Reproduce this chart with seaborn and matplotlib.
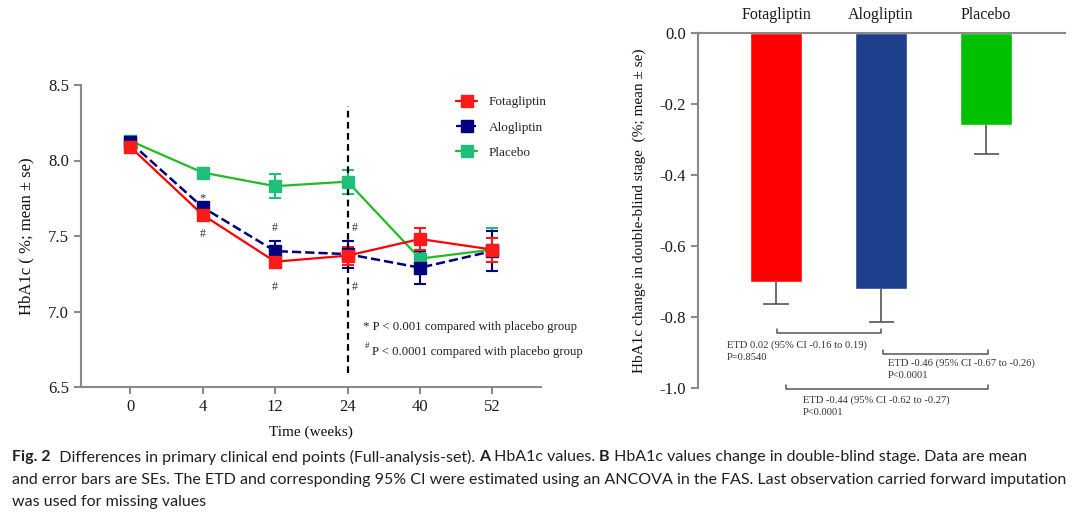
import pandas as pd
import matplotlib
matplotlib.use('Agg')
import matplotlib.pyplot as plt
import seaborn as sns
from matplotlib.lines import Line2D

# ---- data ----
weeks = ['0', '4', '12', '24', '40', '52']
groups = ['Fotagliptin', 'Alogliptin', 'Placebo']

fota_mean = [8.09, 7.64, 7.33, 7.37, 7.48, 7.41]
fota_se = [0.02, 0.03, 0.04, 0.06, 0.07, 0.08]
alo_mean = [8.12, 7.69, 7.40, 7.38, 7.29, 7.40]
alo_se = [0.02, 0.03, 0.07, 0.09, 0.11, 0.13]
plac_mean = [8.13, 7.92, 7.83, 7.86, 7.35, 7.41]
plac_se = [0.02, 0.03, 0.08, 0.08, 0.04, 0.14]

change_mean = [-0.70, -0.72, -0.26]
change_se = [0.063, 0.093, 0.082]

left_yticks = [6.5, 7.0, 7.5, 8.0, 8.5]
right_yticks = [0.0, -0.2, -0.4, -0.6, -0.8, -1.0]
right_yticklabels = ['0.0', '-0.2', '-0.4', '-0.6', '-0.8', '-1.0']

etd_text = [
    ('ETD 0.02 (95% CI -0.16 to 0.19)', 'P=0.8540'),
    ('ETD -0.46 (95% CI -0.67 to -0.26)', 'P<0.0001'),
    ('ETD -0.44 (95% CI -0.62 to -0.27)', 'P<0.0001'),
]

caption_line2 = ('and error bars are SEs. The ETD and corresponding 95% CI were '
                 'estimated using an ANCOVA in the FAS. Last observation carried forward imputation')
caption_line3 = 'was used for missing values'

line_colors = {'Fotagliptin': '#ff0000', 'Alogliptin': '#00007f', 'Placebo': '#22bb22'}
marker_colors = {'Fotagliptin': '#ff1a1a', 'Alogliptin': '#000080', 'Placebo': '#1dbf7a'}
bar_colors = ['#ff0000', '#1e3f8c', '#00c000']

W, H = 1080, 515


def fx(px):
    return px / W


def fy(py):
    return 1 - py / H


def draw_runs(fig, x, y, runs, **kw):
    r = fig.canvas.get_renderer()
    for s, w in runs:
        t = fig.text(x, y, s, fontweight=w, **kw)
        bb = t.get_window_extent(renderer=r)
        x += bb.width / fig.bbox.width


def main():
    sns.set_style('ticks')
    plt.rcParams['font.family'] = ['Liberation Serif', 'DejaVu Serif']
    plt.rcParams['axes.unicode_minus'] = False
    plt.rcParams['axes.edgecolor'] = '#8a8a8a'
    plt.rcParams['xtick.color'] = '#8a8a8a'
    plt.rcParams['ytick.color'] = '#8a8a8a'
    plt.rcParams['xtick.labelcolor'] = '#1a1a1a'
    plt.rcParams['ytick.labelcolor'] = '#1a1a1a'

    fig = plt.figure(figsize=(W / 100, H / 100), dpi=100)

    # ---------------- panel A ----------------
    ax = fig.add_axes([fx(81), fy(387), fx(541) - fx(81), fy(85) - fy(387)])
    df = pd.DataFrame({
        'pos': list(range(len(weeks))) * 3,
        'mean': fota_mean + alo_mean + plac_mean,
        'se': fota_se + alo_se + plac_se,
        'group': [g for g in groups for _ in weeks],
    })
    for g in ['Placebo', 'Alogliptin', 'Fotagliptin']:
        sub = df[df['group'] == g]
        sns.lineplot(data=sub, x='pos', y='mean', color=line_colors[g],
                     lw=1.6 if g != 'Alogliptin' else 1.8,
                     linestyle='--' if g == 'Alogliptin' else '-',
                     ax=ax, legend=False)
        ax.errorbar(sub['pos'], sub['mean'], yerr=sub['se'], fmt='s',
                    ms=9, color=marker_colors[g], ecolor=marker_colors[g],
                    capsize=4, elinewidth=1.5, capthick=1.5)

    ax.vlines(3, 6.59, 8.36, colors='black', linestyles=(0, (3, 2)), lw=1.6)

    ax.set_xlim(-0.68, 5.67)
    ax.set_ylim(6.5, 8.5)
    ax.set_xticks(range(len(weeks)))
    ax.set_xticklabels(weeks)
    ax.set_yticks(left_yticks)
    ax.set_yticklabels([f'{v:.1f}' for v in left_yticks])
    ax.tick_params(labelsize=12, width=1.5, length=5)
    for s in ['top', 'right']:
        ax.spines[s].set_visible(False)
    for s in ['left', 'bottom']:
        ax.spines[s].set_linewidth(1.5)
    ax.set_xlabel('Time (weeks)', fontsize=11, labelpad=8, color='#111111')
    ax.set_ylabel('HbA1c ( %; mean ± se)', fontsize=12, labelpad=10, color='#111111')

    # significance marks
    ax.text(1, 7.75, '*', ha='center', va='center', fontsize=9, color='#333333')
    for xp, yp in [(1, 7.51), (2, 7.55), (2, 7.16), (3.1, 7.55), (3.1, 7.16)]:
        ax.text(xp, yp, '#', ha='center', va='center', fontsize=8.5, color='#333333')

    handles = [Line2D([], [], color=line_colors[g], marker='s', ms=9,
                      markerfacecolor=marker_colors[g], markeredgecolor=marker_colors[g],
                      lw=1.6, linestyle='--' if g == 'Alogliptin' else '-')
               for g in groups]
    fig.legend(handles, groups, loc='upper left', bbox_to_anchor=(fx(456), fy(96)),
               frameon=False, fontsize=9.5, handlelength=1.6, handletextpad=0.9,
               labelspacing=1.0, borderpad=0, borderaxespad=0)

    fig.text(fx(363), fy(327), '* P < 0.001 compared with placebo group',
             fontsize=9.2, va='center', color='#222222')
    fig.text(fx(365), fy(346), '#', fontsize=6.5, va='center', color='#222222')
    fig.text(fx(372), fy(352), 'P < 0.0001 compared with placebo group',
             fontsize=9.2, va='center', color='#222222')

    # ---------------- panel B ----------------
    ax2 = fig.add_axes([fx(698), fy(388), fx(1065) - fx(698), fy(33) - fy(388)])
    sns.barplot(x=groups, y=change_mean, hue=groups, palette=bar_colors,
                width=0.5, legend=False, ax=ax2, saturation=1)
    # one-sided (downward) SE whiskers
    pos = list(range(len(groups)))
    low = [m - s for m, s in zip(change_mean, change_se)]
    ax2.vlines(pos, low, change_mean, colors='#555555', lw=1.2)
    ax2.hlines(low, [p - 0.12 for p in pos], [p + 0.12 for p in pos],
               colors='#555555', lw=1.2)
    ax2.set_xlim(-0.743, 2.75)
    ax2.set_ylim(-1.0, 0.0)
    ax2.set_yticks(right_yticks)
    ax2.set_yticklabels(right_yticklabels)
    ax2.xaxis.tick_top()
    ax2.tick_params(axis='x', length=0, pad=7, labelsize=11.5)
    ax2.tick_params(axis='y', labelsize=12, width=1.5, length=5)
    for s in ['bottom', 'right']:
        ax2.spines[s].set_visible(False)
    for s in ['left', 'top']:
        ax2.spines[s].set_linewidth(1.5)
    ax2.set_ylabel('HbA1c change in double-blind stage  (%; mean ± se)',
                   fontsize=11, labelpad=10, color='#111111')
    ax2.set_xlabel('')

    brackets = [(0.01, 1.0, -0.845), (1.02, 2.02, -0.904), (0.09, 2.02, -1.003)]
    text_pos = [(-0.467, -0.879), (1.067, -0.930), (0.257, -1.034)]
    for (x0, x1, yb), (tx, ty), (l1, l2) in zip(brackets, text_pos, etd_text):
        ax2.plot([x0, x0, x1, x1], [yb + 0.012, yb, yb, yb + 0.012],
                 color='#555555', lw=1.1, clip_on=False)
        ax2.text(tx, ty, l1, fontsize=7.6, va='center', color='#333333', clip_on=False)
        ax2.text(tx, ty - 0.034, l2, fontsize=7.6, va='center', color='#333333', clip_on=False)

    # ---------------- caption ----------------
    # shrink the caption font until the longest line spans the reference width
    fam = ['Lato', 'DejaVu Sans']
    r = fig.canvas.get_renderer()
    probe = fig.text(0, 0, caption_line2, fontsize=12, family=fam)
    width = probe.get_window_extent(renderer=r).width
    probe.remove()
    cap_size = 12 * (1052 / width)

    cap_kw = dict(fontsize=cap_size, va='center', color='#231f20', family=fam)
    draw_runs(fig, fx(12), fy(457), [
        ('Fig. 2', 'bold'),
        ('  Differences in primary clinical end points (Full-analysis-set). ', 'normal'),
        ('A', 'bold'),
        (' HbA1c values. ', 'normal'),
        ('B', 'bold'),
        (' HbA1c values change in double-blind stage. Data are mean', 'normal'),
    ], **cap_kw)
    fig.text(fx(12), fy(480), caption_line2, **cap_kw)
    fig.text(fx(12), fy(502), caption_line3, **cap_kw)

    fig.savefig('out.png', dpi=100)
    plt.close(fig)


if __name__ == '__main__':
    main()
